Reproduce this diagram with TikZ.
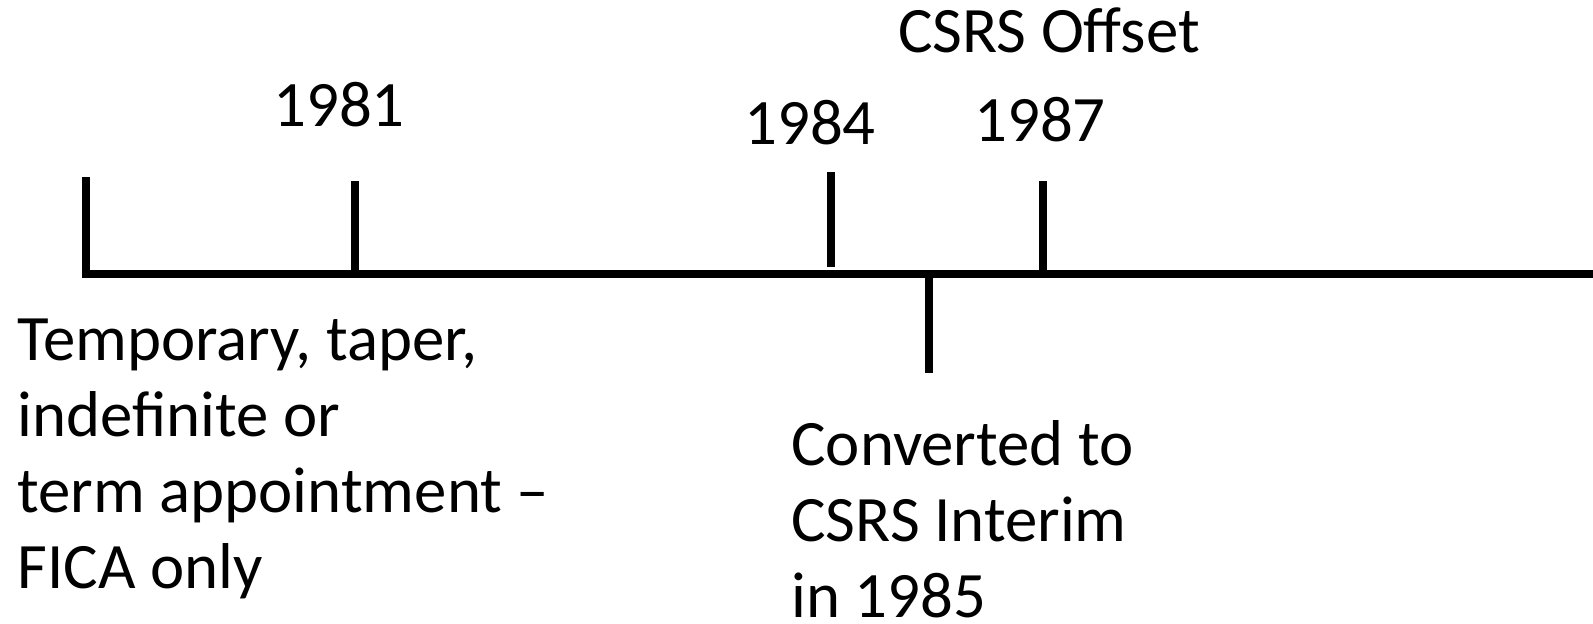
\documentclass[tikz,border=0pt]{standalone}
\usepackage{fontspec}
\setmainfont{Carlito}
\usetikzlibrary{positioning,calc}

\begin{document}
\begin{tikzpicture}[x=0.5pt, y=-0.5pt, font=\fontsize{32.4}{38}\selectfont,
		tick/.style={line width=4pt},
		year/.style={anchor=base,inner sep=0},
		note/.style={anchor=base west,align=left,inner sep=0}]
		\useasboundingbox (0,0) rectangle (1593,624);

		% time line
		\coordinate (start) at (86,274);
		\coordinate (end)   at (1593,274);
		\draw[tick] (86,177) -- (start) -- (end);

		% ticks
		\coordinate (t81) at (355,274);
		\coordinate (t84) at (831,267);
		\coordinate (t85) at (929,274);
		\coordinate (t87) at (1043,274);
		\draw[tick] (t81) -- ++(0,-93);
		\draw[tick] (t84) -- ++(0,-95);
		\draw[tick] (t85) -- ++(0,99);
		\draw[tick] (t87) -- ++(0,-93);

		% labels (base of a note is its last line)
		\node[year] (y81) at (339,127) {1981};
		\node[year] (y84) at (810,145) {1984};
		\node[year] (y87) at (1040,142) {1987};
		\node[year] (offset) at (1049,53) {CSRS Offset};

		\node[note] (fica) at (17,588) {Temporary, taper,\\indefinite or\\term appointment --\\FICA only};
		\node[note] (interim) at (791,617) {Converted to\\CSRS Interim\\in 1985};
\end{tikzpicture}
\end{document}
